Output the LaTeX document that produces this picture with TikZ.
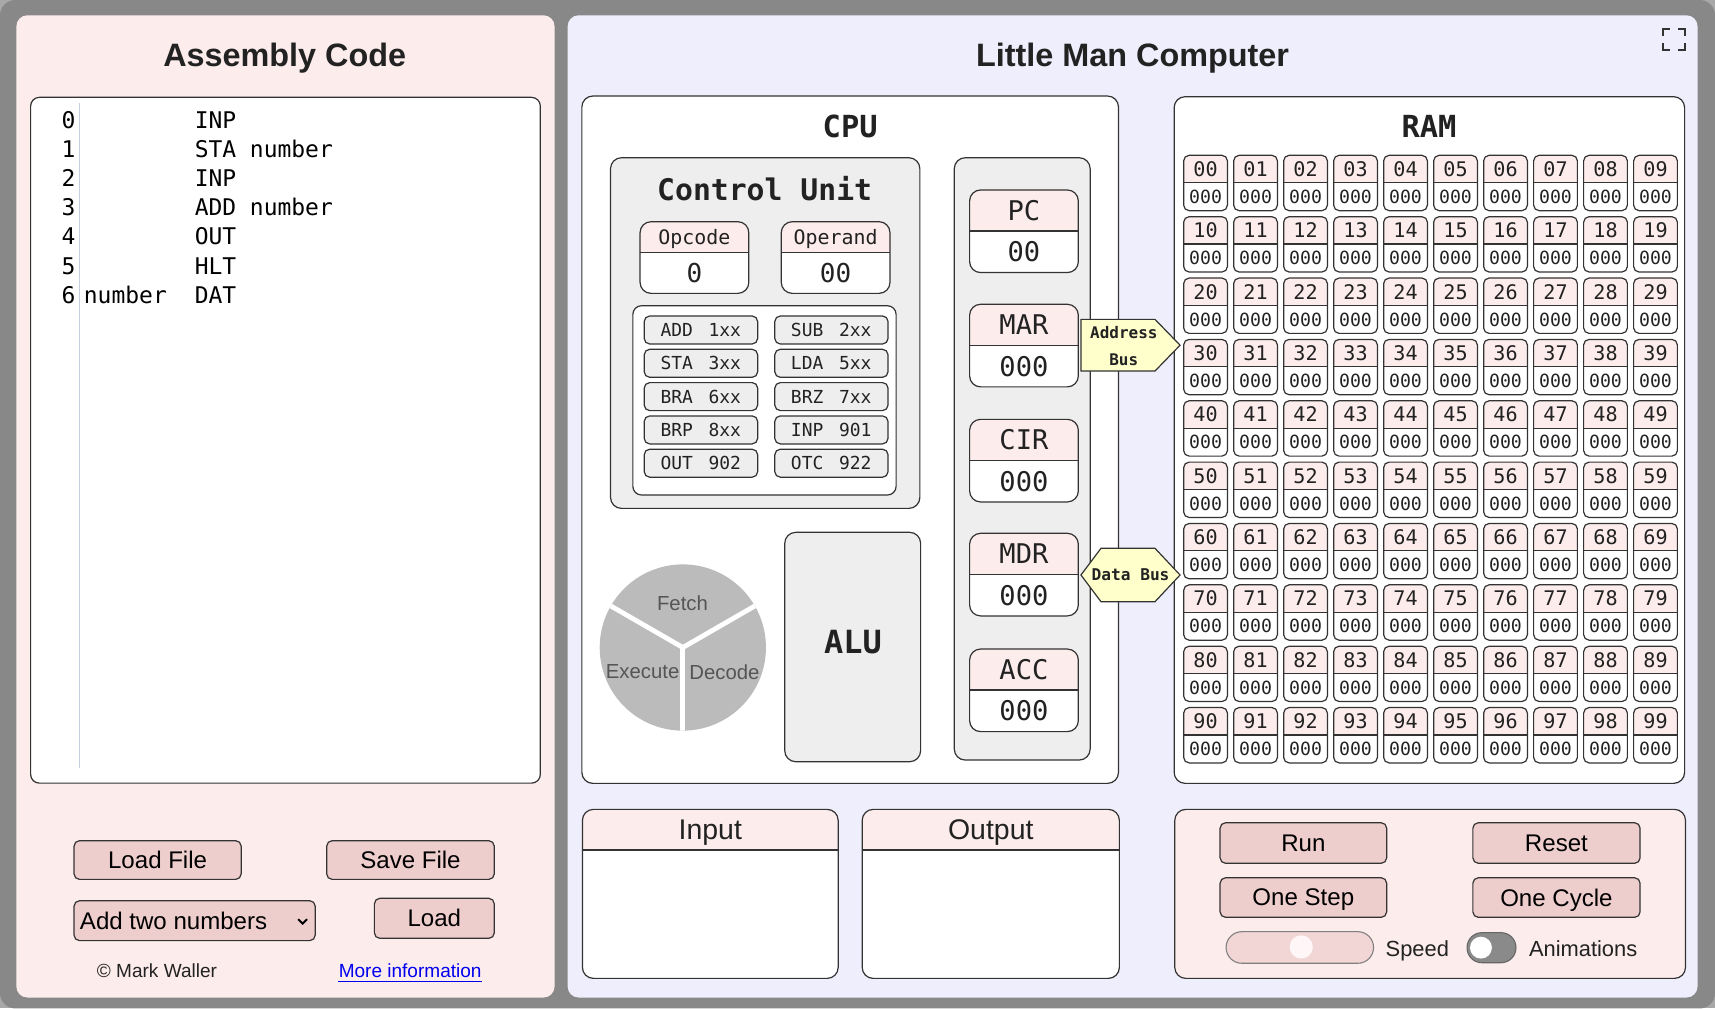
\documentclass[tikz,border=0pt]{standalone}
\usepackage{fontspec}
\setmainfont{Liberation Sans}
\newfontfamily\monof{DejaVu Sans Mono}
\definecolor{cornerg}{HTML}{A8A8A8}
\definecolor{outerg}{HTML}{888888}
\definecolor{pinkbg}{HTML}{FDECEC}
\definecolor{lavbg}{HTML}{EEEEFC}
\definecolor{btnfill}{HTML}{EECDCD}
\definecolor{graybox}{HTML}{EEEEEE}
\definecolor{edgec}{HTML}{333333}
\definecolor{busfill}{HTML}{FFFFCC}
\definecolor{cyclef}{HTML}{BBBBBB}
\definecolor{cyclet}{HTML}{555555}
\definecolor{titlec}{HTML}{222222}
\definecolor{gutterc}{HTML}{C4D0E0}
\definecolor{linkc}{HTML}{0000EE}
\definecolor{pillc}{HTML}{F2D6D6}
\definecolor{knobc}{HTML}{FFF7F7}
\definecolor{togc}{HTML}{8A8A8A}
\newcommand\fsz[1]{\fontsize{#1}{#1}\selectfont}
\def\cellrad{5pt}
\def\cellLfont{\monof\fsz{12.4pt}}
\def\cellVfont{\monof\fsz{12.4pt}}
\newcommand\regcell[8]{%
  \begin{scope}
    \clip[rounded corners=\cellrad] (#2,#3) rectangle (#4,#6);
    \fill[white] (#2,#3) rectangle (#4,#6);
    \fill[pinkbg] (#2,#3) rectangle (#4,#5);
  \end{scope}
  \draw[bord] (#2,#5) -- (#4,#5);
  \draw[bord, rounded corners=\cellrad] (#2,#3) rectangle (#4,#6);
  \node[txt, font=\cellLfont] (#1l) at ({(#2+#4)/2},{(#3+#5)/2}) {#7};
  \node[txt, font=\cellVfont] (#1v) at ({(#2+#4)/2},{(#5+#6)/2}) {#8};
}
\tikzset{
  bord/.style={draw=edgec, line width=0.55pt},
  txt/.style={inner sep=0pt, text depth=0pt, text=titlec},
  codet/.style={inner sep=0pt, text=black, font=\monof\fsz{10.5pt}},
  btn/.style={fill=btnfill, draw=edgec, line width=0.55pt, rounded corners=2.5pt},
  titlef/.style={font=\bfseries\fsz{14.8pt}},
  btnf/.style={font=\fsz{11pt}, text=black},
}
\begin{document}
\begin{tikzpicture}[x=0.5pt,y=-0.5pt]
\useasboundingbox (0,0) rectangle (1568,922);
\fill[cornerg] (0,0) rectangle (1568,922);
\fill[outerg, rounded corners=7pt] (0,0) rectangle (1568,922);
\fill[pinkbg, rounded corners=5pt] (15,14) rectangle (507,912);
\fill[lavbg, rounded corners=5pt] (519,14) rectangle (1552,912);

% titles
\node[txt, titlef] (asmtitle) at (260.3,50) {Assembly Code};
\node[txt, titlef] (lmctitle) at (1035.5,50) {Little Man Computer};

% fullscreen icon
\draw[edgec, line width=0.75pt]
  (1520.6,33) -- (1520.6,26.8) -- (1527,26.8)
  (1534.2,26.8) -- (1540.6,26.8) -- (1540.6,33)
  (1520.6,39.5) -- (1520.6,45.7) -- (1527,45.7)
  (1534.2,45.7) -- (1540.6,45.7) -- (1540.6,39.5);

% ---------------- code editor
\draw[bord, fill=white, rounded corners=4pt] (28,89) rectangle (494,716);
\draw[gutterc, line width=0.6pt] (72.4,94.5) -- (72.4,702);
\foreach \i in {0,...,6}{
  \node[codet, anchor=base east] (ln\i) at (69.3,{117.3+26.67*\i}) {\i};
}
\foreach \op [count=\k from 0] in {INP,STA,INP,ADD,OUT,HLT,DAT}{
  \node[codet, anchor=base west] (op\k) at (177.7,{117.3+26.67*\k}) {\op};
}
\node[codet, anchor=base west] (arg1) at (228.1,{117.3+26.67}) {number};
\node[codet, anchor=base west] (arg3) at (228.1,{117.3+26.67*3}) {number};
\node[codet, anchor=base west] (lab6) at (76.3,{117.3+26.67*6}) {number};

% ---------------- left buttons
\draw[btn] (67.7,768.6) rectangle (220.5,804);
\node[txt, btnf] (loadfile) at (144.1,786.3) {Load File};
\draw[btn] (298.7,768.6) rectangle (451.9,804);
\node[txt, btnf] (savefile) at (375.3,786.3) {Save File};
\draw[btn] (67.7,823.5) rectangle (288.2,860);
\node[txt, btnf, anchor=west] (select) at (72.7,841.6) {Add two numbers};
\draw[black, line width=0.9pt] (272.6,840.4) -- (276.7,844.5) -- (280.8,840.4);
\draw[btn] (342.3,821.3) rectangle (451.9,857.9);
\node[txt, btnf] (loadbtn) at (397.1,839.4) {Load};
\node[txt, font=\fsz{8.7pt}] (copy) at (143.5,887.6) {© Mark Waller};
\node[inner sep=0pt, text depth=0pt, text=linkc, font=\fsz{8.7pt}] (more) at (375,887.6) {More information};
\draw[linkc, line width=0.5pt] (more.south west) ++(0,2.8) -- ([yshift=-1.4pt]more.south east);

% ---------------- CPU
\draw[bord, fill=white, rounded corners=5pt] (532,87.8) rectangle (1022.6,716.2);
\node[txt, font=\monof\bfseries\fsz{13.9pt}] (cputitle) at (777.3,115.8) {CPU};

% control unit
\draw[bord, fill=graybox, rounded corners=5pt] (558.2,144.2) rectangle (841,464.8);
\node[txt, font=\monof\bfseries\fsz{13.6pt}] (cutitle) at (699.1,172.2) {Control Unit};
\def\cellrad{5pt}
\def\cellLfont{\monof\fsz{9.1pt}}
\def\cellVfont{\monof\fsz{11.9pt}}
\regcell{opc}{585.2}{202.7}{684.6}{231}{268.2}{Opcode}{0}
\regcell{opd}{714.3}{202.7}{813.7}{231}{268.2}{Operand}{00}
\draw[bord, fill=white, rounded corners=4pt] (578.6,279.5) rectangle (819.3,452.6);
\foreach \oa/\ca/\ob/\cb [count=\k from 0] in {ADD/1xx/SUB/2xx, STA/3xx/LDA/5xx, BRA/6xx/BRZ/7xx, BRP/8xx/INP/901, OUT/902/OTC/922}{
  \pgfmathsetmacro\ya{288.9+30.45*\k}
  \draw[bord, fill=graybox, rounded corners=2.5pt] (589,\ya) rectangle (692.7,\ya+25.6);
  \draw[bord, fill=graybox, rounded corners=2.5pt] (708.4,\ya) rectangle (811.9,\ya+25.6);
  \node[txt, font=\monof\fsz{8.2pt}] (ia\k) at (618.8,\ya+12.8) {\oa};
  \node[txt, font=\monof\fsz{8.2pt}] (ic\k) at (662.6,\ya+12.8) {\ca};
  \node[txt, font=\monof\fsz{8.2pt}] (ib\k) at (738,\ya+12.8) {\ob};
  \node[txt, font=\monof\fsz{8.2pt}] (id\k) at (782,\ya+12.8) {\cb};
}

% registers
\draw[bord, fill=graybox, rounded corners=5pt] (872.5,144.2) rectangle (996.7,694.9);
\def\cellLfont{\monof\fsz{12.4pt}}
\def\cellVfont{\monof\fsz{12.4pt}}
\foreach \lab/\val/\ya in {PC/00/173.7, MAR/000/278.2, CIR/000/383.4, MDR/000/487.6, ACC/000/593.4}{
  \regcell{r\lab}{886.5}{\ya}{985.9}{\ya+37.5}{\ya+75.5}{\lab}{\val}
}

% ALU
\draw[bord, fill=graybox, rounded corners=5pt] (717.5,486.7) rectangle (841.7,696.4);
\node[txt, font=\monof\bfseries\fsz{14.6pt}] (alu) at (779.8,586.7) {ALU};

% cycle
\fill[cyclef] (624.3,592) circle (76);
\begin{scope}
  \clip (624.3,592) circle (76);
  \draw[white, line width=2.2pt] (624.3,592) -- ++(-70,-40.4);
  \draw[white, line width=2.2pt] (624.3,592) -- ++(70,-40.4);
  \draw[white, line width=2.2pt] (624.3,592) -- ++(0,80);
\end{scope}
\node[inner sep=0pt, text depth=0pt, text=cyclet, font=\fsz{9.3pt}] (fetch) at (624,551) {Fetch};
\node[inner sep=0pt, text depth=0pt, text=cyclet, font=\fsz{9.3pt}] (execute) at (587.5,613.5) {Execute};
\node[inner sep=0pt, text depth=0pt, text=cyclet, font=\fsz{9.3pt}] (decode) at (662.4,614.4) {Decode};

% ---------------- RAM
\draw[bord, fill=white, rounded corners=5pt] (1073.5,88.4) rectangle (1540.2,716.2);
\node[txt, font=\monof\bfseries\fsz{13.9pt}] (ramtitle) at (1306.5,115.8) {RAM};
\def\cellrad{2.5pt}
\def\cellLfont{\monof\fsz{9.2pt}}
\def\cellVfont{\monof\fsz{8.3pt}}
\foreach \r in {0,...,9}{
  \foreach \c in {0,...,9}{
    \pgfmathsetmacro\xa{1082.2+45.71*\c}
    \pgfmathsetmacro\yb{142+56.1*\r}
    \regcell{m\r\c}{\xa}{\yb}{\xa+40}{\yb+25}{\yb+50.6}{\r\c}{000}
  }
}

% buses
\draw[edgec, line width=0.55pt, fill=busfill] (988.3,292) -- (1056,292) -- (1078.9,315.6) -- (1056,339.2) -- (988.3,339.2) -- cycle;
\node[txt, font=\monof\bfseries\fsz{7.3pt}] (addrbus1) at (1027.5,303.8) {Address};
\node[txt, font=\monof\bfseries\fsz{7.3pt}] (addrbus2) at (1027.4,328.5) {Bus};
\draw[edgec, line width=0.55pt, fill=busfill] (988.3,525.7) -- (1006.6,501.3) -- (1056,501.3) -- (1078.9,525.7) -- (1056,550.1) -- (1006.6,550.1) -- cycle;
\node[txt, font=\monof\bfseries\fsz{7.4pt}] (databus) at (1033.6,525.7) {Data Bus};

% ---------------- input / output
\def\cellrad{5pt}
\def\cellLfont{\fsz{13pt}}
\def\cellVfont{\fsz{13pt}}
\regcell{inp}{532.5}{740}{766.3}{777.1}{894.5}{Input}{}
\regcell{outp}{788.3}{740}{1023.4}{777.1}{894.5}{Output}{}

% ---------------- controls
\draw[bord, fill=pinkbg, rounded corners=5pt] (1074.1,740) rectangle (1541,894.5);
\draw[btn] (1115.5,752.2) rectangle (1267.8,789.3);
\node[txt, btnf] (run) at (1191.6,770.8) {Run};
\draw[btn] (1346.6,752.2) rectangle (1499.5,789.3);
\node[txt, btnf] (reset) at (1423,770.8) {Reset};
\draw[btn] (1115.5,802.5) rectangle (1267.8,838.7);
\node[txt, btnf] (onestep) at (1191.6,820.6) {One Step};
\draw[btn] (1346.6,802.5) rectangle (1499.5,838.7);
\node[txt, btnf] (onecycle) at (1423,820.6) {One Cycle};
\draw[draw=gray, line width=0.5pt, fill=pillc, rounded corners=7.2pt] (1121,851.8) rectangle (1255.8,880.7);
\fill[knobc] (1189.7,865.8) circle (10.6);
\node[txt, font=\fsz{10pt}] (speed) at (1295.8,867) {Speed};
\draw[draw=gray!80!black, line width=0.5pt, fill=togc, rounded corners=6.8pt] (1341.3,852.7) rectangle (1386,880.2);
\fill[white] (1354,866.4) circle (10);
\node[txt, font=\fsz{10pt}] (anim) at (1447.4,867) {Animations};
\end{tikzpicture}
\end{document}
